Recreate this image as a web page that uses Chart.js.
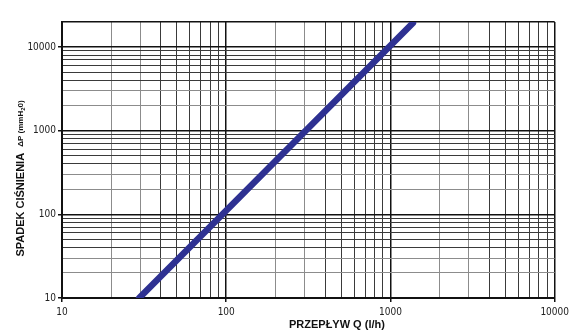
<!DOCTYPE html>
<html>
<head>
<meta charset="utf-8">
<script src="https://cdn.jsdelivr.net/npm/chart.js@4/dist/chart.umd.min.js"></script>
<style>
html,body{margin:0;padding:0;background:#fff;}
#wrap{width:573px;height:334px;position:relative;}
</style>
</head>
<body>
<div id="wrap"><canvas id="c" width="573" height="334"></canvas></div>
<script>
// Data (log-log pressure drop curve)
const flowQ = [29.5, 1370];          // l/h
const pressureDrop = [10, 19300];    // mmH2O
const xDecades = [10, 100, 1000, 10000];
const yDecades = [10, 100, 1000, 10000];
const xTitle = 'PRZEPŁYW Q (l/h)';
const yTitleMain = 'SPADEK CIŚNIENIA';
const yTitleUnitA = 'ΔP (mmH';
const yTitleUnitSub = '2';
const yTitleUnitB = '0)';
const yTop = 19850;

function logTicks(min, max) {
  const out = [];
  for (let d = min; d < max; d *= 10) {
    for (let m = 1; m <= 9; m++) out.push(d * m);
  }
  out.push(max);
  return out;
}
const isDecade = v => Math.abs(Math.log10(v) - Math.round(Math.log10(v))) < 1e-9;
const mantissa = v => Math.round(v / Math.pow(10, Math.floor(Math.log10(v) + 1e-9)));
const minorColor = v => (mantissa(v) === 2 || mantissa(v) === 3) ? '#8c8c8c' : '#3a3a3a';

const fam = '"Liberation Sans Narrow","DejaVu Sans Condensed","Liberation Sans",sans-serif';
const tickFont = {family: fam, size: 10};

const titlePlugin = {
  id: 'axisTitles',
  afterDraw(chart) {
    const {ctx, chartArea: a} = chart;
    ctx.save();
    ctx.fillStyle = '#111';
    // x title
    ctx.font = 'bold 11px "Liberation Sans", sans-serif';
    ctx.textAlign = 'center';
    ctx.textBaseline = 'middle';
    ctx.fillText(xTitle, a.left + 0.558 * (a.right - a.left), a.bottom + 27);
    // y title (rotated, mixed sizes)
    ctx.translate(24, a.top + 0.85 * (a.bottom - a.top));
    ctx.rotate(-Math.PI / 2);
    ctx.textAlign = 'left';
    ctx.textBaseline = 'alphabetic';
    ctx.font = 'bold 11px "Liberation Sans", sans-serif';
    ctx.fillText(yTitleMain, 0, 0);
    let x = ctx.measureText(yTitleMain + '  ').width;
    ctx.font = 'bold 8px "Liberation Sans", sans-serif';
    ctx.fillText(yTitleUnitA, x, -1);
    x += ctx.measureText(yTitleUnitA).width;
    ctx.font = 'bold 6px "Liberation Sans", sans-serif';
    ctx.fillText(yTitleUnitSub, x, 1);
    x += ctx.measureText(yTitleUnitSub).width;
    ctx.font = 'bold 8px "Liberation Sans", sans-serif';
    ctx.fillText(yTitleUnitB, x, -1);
    ctx.restore();
  }
};

new Chart(document.getElementById('c'), {
  type: 'line',
  data: {
    datasets: [{
      data: flowQ.map((q, i) => ({x: q, y: pressureDrop[i]})),
      borderColor: '#2e3192',
      borderWidth: 6.5,
      borderCapStyle: 'round',
      pointRadius: 0,
      fill: false,
      tension: 0
    }]
  },
  plugins: [titlePlugin],
  options: {
    responsive: false,
    animation: false,
    layout: {padding: {top: 22, right: 17, left: 0, bottom: 0}},
    plugins: {legend: {display: false}, tooltip: {enabled: false}},
    scales: {
      x: {
        type: 'logarithmic',
        min: 10, max: 10000,
        afterBuildTicks: s => { s.ticks = logTicks(10, 10000).map(v => ({value: v})); },
        afterFit: s => { s.height = 36; },
        border: {display: true, color: '#111', width: 2},
        grid: {
          drawTicks: true,
          tickLength: 4,
          tickColor: c => isDecade(c.tick.value) ? '#111' : 'rgba(0,0,0,0)',
          color: c => isDecade(c.tick.value) ? '#111' : minorColor(c.tick.value),
          lineWidth: c => isDecade(c.tick.value) ? 1.5 : 1
        },
        ticks: {
          autoSkip: false, maxRotation: 0, padding: 4,
          color: '#222', font: tickFont,
          callback: v => xDecades.includes(v) ? String(v) : ''
        }
      },
      y: {
        type: 'logarithmic',
        min: 10, max: yTop,
        afterBuildTicks: s => { s.ticks = logTicks(10, 10000).map(v => ({value: v})).concat([{value: yTop}]); },
        afterFit: s => { s.width = 62; },
        border: {display: true, color: '#111', width: 2},
        grid: {
          drawTicks: true,
          tickLength: 4,
          tickColor: c => isDecade(c.tick.value) ? '#111' : 'rgba(0,0,0,0)',
          color: c => (isDecade(c.tick.value) || c.tick.value === yTop) ? '#111' : minorColor(c.tick.value),
          lineWidth: c => (isDecade(c.tick.value) || c.tick.value === yTop) ? 1.5 : 1
        },
        ticks: {
          autoSkip: false, padding: 2,
          color: '#222', font: tickFont,
          callback: v => yDecades.includes(v) ? String(v) : ''
        }
      }
    }
  }
});
</script>
</body>
</html>
